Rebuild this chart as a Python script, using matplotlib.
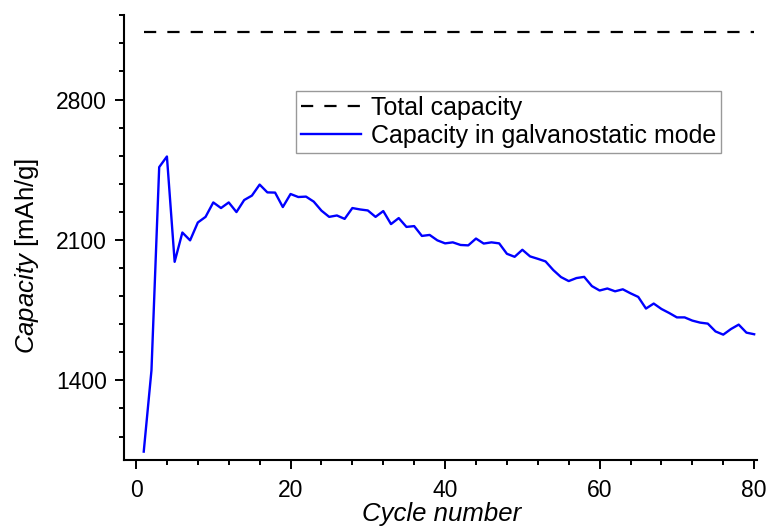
import numpy as np
import matplotlib
matplotlib.use('Agg')
import matplotlib.pyplot as plt
from matplotlib.ticker import MultipleLocator

plt.rcParams['font.family'] = ['Liberation Sans', 'DejaVu Sans']
plt.rcParams['mathtext.fontset'] = 'custom'
plt.rcParams['mathtext.it'] = 'Liberation Sans:italic'
plt.rcParams['mathtext.rm'] = 'Liberation Sans'

# Data
cycles = np.arange(1, 81)
capacity = [
    1045, 1450, 2463, 2516, 1991, 2137, 2098, 2187, 2215, 2287,
    2259, 2287, 2239, 2299, 2321, 2376, 2337, 2336, 2264, 2329,
    2314, 2316, 2291, 2246, 2215, 2222, 2205, 2259, 2252, 2247,
    2215, 2244, 2179, 2209, 2165, 2169, 2120, 2125, 2098, 2083,
    2088, 2075, 2073, 2107, 2082, 2088, 2083, 2031, 2016, 2051,
    2018, 2006, 1993, 1950, 1915, 1895, 1910, 1916, 1870, 1848,
    1858, 1844, 1854, 1834, 1816, 1758, 1783, 1756, 1736, 1714,
    1714, 1698, 1688, 1683, 1644, 1628, 1656, 1678, 1638, 1630,
]
total_capacity = 3138
total_x = [1, 80]

fig = plt.figure(figsize=(7.68, 5.30), dpi=100)
ax = fig.add_axes([0.161, 0.132, 0.825, 0.840])

ax.plot(total_x, [total_capacity, total_capacity], color='black', lw=1.6,
        linestyle=(0, (5.5, 5)), label='Total capacity')
ax.plot(cycles, capacity, color='#0000ff', lw=1.7,
        label='Capacity in galvanostatic mode')

ax.set_xlim(-1.6, 80.4)
ax.set_ylim(1003, 3222)

ax.xaxis.set_major_locator(MultipleLocator(20))
ax.xaxis.set_minor_locator(MultipleLocator(4))
ax.yaxis.set_major_locator(MultipleLocator(700))
ax.yaxis.set_minor_locator(MultipleLocator(140))

for s in ['top', 'right']:
    ax.spines[s].set_visible(False)
for s in ['left', 'bottom']:
    ax.spines[s].set_linewidth(1.5)

ax.tick_params(which='major', direction='out', length=6.5, width=1.4,
               labelsize=16.5)
ax.tick_params(axis='y', which='major', pad=5.5)
ax.tick_params(axis='x', which='major', pad=7)
ax.tick_params(which='minor', direction='out', length=3.5, width=1.4)

ax.set_xlabel('Cycle number', fontsize=18.5, fontstyle='italic')
ax.set_ylabel(r'$\it{Capacity}$ [mAh/g]', fontsize=18.5)
ax.xaxis.set_label_coords(0.502, -0.095)
ax.yaxis.set_label_coords(-0.131, 0.458)

leg = ax.legend(loc='upper left', bbox_to_anchor=(0.385, 0.828),
                bbox_transform=fig.transFigure, fontsize=18, frameon=True,
                fancybox=False, edgecolor='#808080', handlelength=2.4,
                handletextpad=0.4, labelspacing=0.15, borderpad=0.2,
                borderaxespad=0)
leg.get_frame().set_linewidth(1.0)

fig.savefig('out.png', dpi=100)
